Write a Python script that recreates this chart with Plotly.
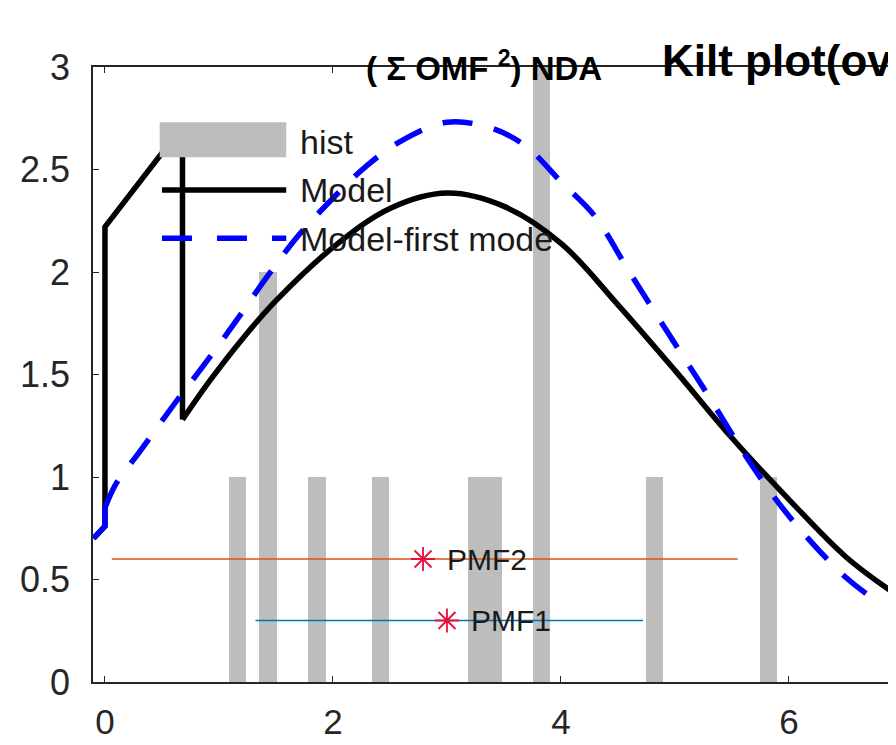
import plotly.graph_objects as go

# ------------------------------------------------------------
# data
# ------------------------------------------------------------
hist_centers = [1.16, 1.43, 1.86, 2.42, 3.26, 3.41, 3.83, 4.82, 5.82]
hist_counts = [1, 2, 1, 1, 1, 1, 3, 1, 1]
bin_width = 0.15

# Model (black): jagged start, then smooth part
model_x_start = [-0.1, 0.0, 0.0, 0.68, 0.68]
model_y_start = [0.70, 0.76, 2.22, 2.71, 1.28]
model_x = [0.68, 0.92, 1.2, 1.5, 2.0, 2.5, 3.0, 3.5, 4.0, 4.5, 5.0, 5.5, 6.0, 6.5, 6.93]
model_y = [1.28, 1.47, 1.67, 1.86, 2.12, 2.31, 2.385, 2.32, 2.14, 1.84, 1.52, 1.19, 0.89, 0.61, 0.43]

# Model-first mode (blue dashed)
first_x_start = [-0.1, 0.0, 0.0]
first_y_start = [0.70, 0.76, 0.85]
first_x = [0.0, 0.1, 0.3, 0.6, 0.9, 1.2, 1.4, 1.7, 2.0, 2.3, 2.6, 3.0, 3.4, 3.7,
           4.0, 4.3, 4.6, 5.0, 5.3, 5.6, 5.9, 6.2, 6.5, 6.73]
first_y = [0.85, 0.97, 1.12, 1.35, 1.57, 1.80, 1.96, 2.18, 2.36, 2.52, 2.64, 2.73, 2.70, 2.61,
           2.44, 2.27, 2.00, 1.65, 1.39, 1.12, 0.88, 0.68, 0.51, 0.41]

# PMF bars
pmf_names = ['PMF1', 'PMF2']
pmf_level = [0.3, 0.6]
pmf_mean = [3.0, 2.79]
pmf_lo = [1.32, 0.06]
pmf_hi = [4.72, 5.55]
pmf_colors = ['#0072BD', '#D95319']

x_ticks = [0, 2, 4, 6]
y_ticks = [0, 0.5, 1, 1.5, 2, 2.5, 3]

FONT = 'Liberation Sans, Arial, sans-serif'
AXIS = '#262626'
STAR = '#e8103a'

fig = go.Figure()

fig.add_trace(go.Bar(
    x=hist_centers, y=hist_counts, width=[bin_width] * len(hist_centers),
    marker=dict(color='#bdbdbd', line=dict(width=0)), showlegend=False
))

fig.add_trace(go.Scatter(
    x=model_x_start, y=model_y_start, mode='lines',
    line=dict(color='black', width=5.5), showlegend=False
))
fig.add_trace(go.Scatter(
    x=model_x, y=model_y, mode='lines',
    line=dict(color='black', width=5.5, shape='spline'), showlegend=False
))

fig.add_trace(go.Scatter(
    x=first_x_start, y=first_y_start, mode='lines',
    line=dict(color='#0000ff', width=5.5), showlegend=False
))
fig.add_trace(go.Scatter(
    x=first_x, y=first_y, mode='lines',
    line=dict(color='#0000ff', width=5.5, dash='30px,22px', shape='spline'), showlegend=False
))

for name, lev, m, lo, hi, col in zip(pmf_names, pmf_level, pmf_mean, pmf_lo, pmf_hi, pmf_colors):
    fig.add_trace(go.Scatter(
        x=[lo, hi], y=[lev, lev], mode='lines',
        line=dict(color=col, width=1.6), showlegend=False
    ))
    fig.add_trace(go.Scatter(
        x=[m], y=[lev], mode='markers',
        marker=dict(symbol='asterisk-open', size=20, color=STAR,
                    line=dict(color=STAR, width=1.8)),
        showlegend=False
    ))
    fig.add_annotation(x=m, y=lev, text=name, showarrow=False, xanchor='left',
                       xshift=22, font=dict(family=FONT, size=30, color='#1a1a1a'))

# hand-made legend like the MATLAB one (transparent, no box)
fig.add_shape(type='rect', x0=0.48, x1=1.59, y0=2.56, y1=2.73, xref='x', yref='y',
              fillcolor='#bdbdbd', line=dict(width=0), layer='above')
fig.add_shape(type='line', x0=0.50, x1=1.59, y0=2.40, y1=2.40, xref='x', yref='y',
              line=dict(color='black', width=5.5), layer='above')
fig.add_shape(type='line', x0=0.50, x1=1.59, y0=2.165, y1=2.165, xref='x', yref='y',
              line=dict(color='#0000ff', width=5.5, dash='30px,25px'), layer='above')
for txt, yy in zip(['hist', 'Model', 'Model-first mode'], [2.635, 2.40, 2.16]):
    fig.add_annotation(x=1.69, y=yy, text=txt, showarrow=False, xanchor='left',
                       font=dict(family=FONT, size=34, color='#1a1a1a'))

# titles
fig.add_annotation(x=0.4875, y=1.039, xref='paper', yref='paper',
                   text='<b>( Σ OMF <sup>2</sup>) NDA</b>', showarrow=False,
                   font=dict(family=FONT, size=33, color='black'))
fig.add_annotation(x=0.707, y=1.053, xref='paper', yref='paper', xanchor='left',
                   text='<b>Kilt plot(ov</b>', showarrow=False,
                   font=dict(family=FONT, size=44, color='black'))

# the page body has an 8px margin, so the figure is a bit smaller and shifted
fig.update_layout(
    width=888, height=737,
    margin=dict(l=85, r=1, t=59, b=63),
    plot_bgcolor='white', paper_bgcolor='white',
    bargap=0, showlegend=False,
    font=dict(family=FONT, color=AXIS),
)
fig.update_xaxes(
    range=[-0.105, 6.93], tickvals=x_ticks, ticks='inside', ticklen=6,
    tickcolor=AXIS, showline=True, linecolor=AXIS, linewidth=1.5, mirror='ticks',
    showgrid=False, zeroline=False, tickfont=dict(size=35, color=AXIS),
    ticklabelstandoff=8, automargin=False
)
fig.update_yaxes(
    range=[0, 3], tickvals=y_ticks, ticks='inside', ticklen=6,
    tickcolor=AXIS, showline=True, linecolor=AXIS, linewidth=1.5, mirror='ticks',
    showgrid=False, zeroline=False, tickfont=dict(size=36, color=AXIS),
    ticklabelstandoff=14, automargin=False
)

fig.write_html("out.html")
